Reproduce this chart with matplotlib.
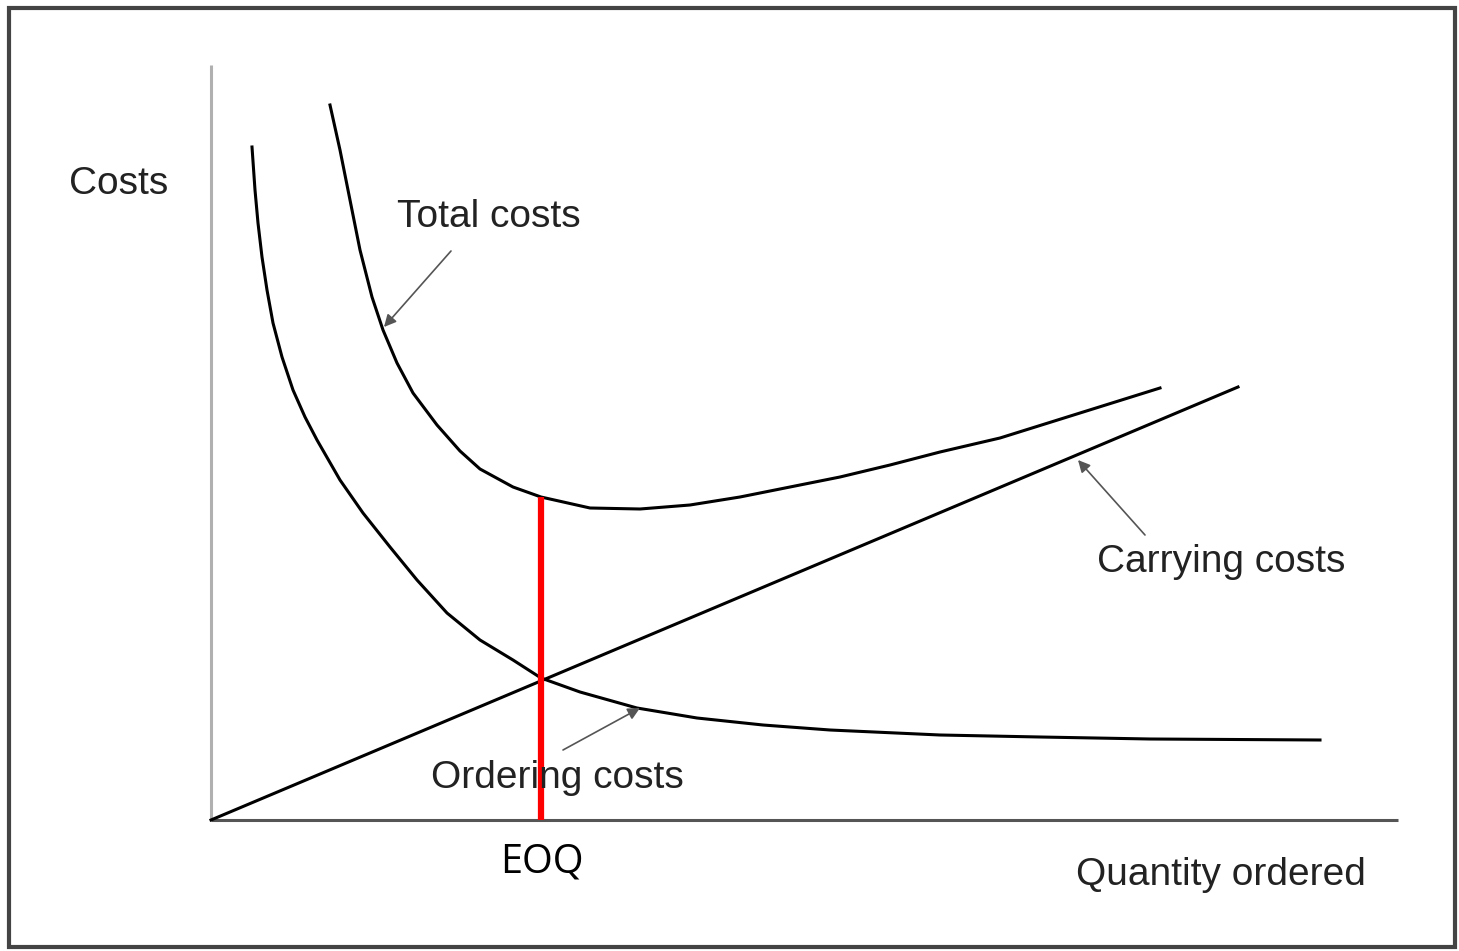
import matplotlib
matplotlib.use("Agg")
import matplotlib.pyplot as plt
from matplotlib.patches import Rectangle

# ---- data (quantity ordered vs cost) ----
ordering_q = [41, 44, 47, 51, 56, 62, 71, 82, 94, 106, 129, 152, 179, 206, 236, 269, 302, 330,
              369, 426, 486, 552, 619, 729, 829, 939, 1109]
ordering_c = [673, 630, 597, 563, 530, 497, 463, 430, 403, 380, 340, 307, 273, 240, 207, 180, 160, 142,
              128, 112, 102, 95, 90, 85, 83, 81, 80]

total_q = [119, 129, 139, 149, 161, 172, 186, 202, 226, 249, 269, 302, 330, 379, 429, 479, 529,
           579, 629, 679, 729, 789, 949]
total_c = [715, 670, 620, 570, 523, 490, 457, 427, 395, 369, 351, 333, 323, 312, 311, 315, 323,
           333, 343, 355, 368, 382, 432]

carrying_q = [0, 1027]
carrying_c = [0, 433]

eoq_q = 330
eoq_top = 323

x_axis_end = 1187
y_axis_end = 755

labels = {
    "costs": "Costs",
    "total": "Total costs",
    "carrying": "Carrying costs",
    "ordering": "Ordering costs",
    "quantity": "Quantity ordered",
    "eoq": "EOQ",
}

W, H = 1459, 951
fig = plt.figure(figsize=(W / 100, H / 100), dpi=100)
fig.patch.set_facecolor("white")
ax = fig.add_axes([0, 0, 1, 1])
ax.set_xlim(-211, W - 211)
ax.set_ylim(820 - H, 820)
ax.axis("off")

# axes lines
ax.plot([0, 0], [0, y_axis_end], color="#b0b0b0", lw=2.2, solid_capstyle="butt")
ax.plot([0, x_axis_end], [0, 0], color="#555555", lw=2.2, solid_capstyle="butt")

# curves
ax.plot(ordering_q, ordering_c, color="black", lw=2.2, solid_joinstyle="round")
ax.plot(total_q, total_c, color="black", lw=2.2, solid_joinstyle="round")
ax.plot(carrying_q, carrying_c, color="black", lw=2.2)

# EOQ line
ax.plot([eoq_q, eoq_q], [0, eoq_top], color="#ff0000", lw=4.5, solid_capstyle="butt")

font = ["Liberation Sans", "DejaVu Sans"]
tc = "#222222"
fs = 28
ax.text(-92, 636, labels["costs"], fontsize=fs, family=font, color=tc, ha="center", va="center")
ax.text(278, 603, labels["total"], fontsize=fs, family=font, color=tc, ha="center", va="center")
ax.text(1010, 258, labels["carrying"], fontsize=fs, family=font, color=tc, ha="center", va="center")
ax.text(346, 42, labels["ordering"], fontsize=fs, family=font, color=tc, ha="center", va="center")
ax.text(1010, -55, labels["quantity"], fontsize=fs, family=font, color=tc, ha="center", va="center")
ax.text(331, -42, labels["eoq"], fontsize=28.5, family=["Open Sans", "DejaVu Sans"], color="black",
        ha="center", va="center")

arrow_kw = dict(arrowstyle="-|>", color="#555555", lw=1.2, mutation_scale=18, shrinkA=0, shrinkB=0)
ax.annotate("", xy=(173, 493), xytext=(240, 569), arrowprops=arrow_kw)
ax.annotate("", xy=(867, 360), xytext=(934, 285), arrowprops=arrow_kw)
ax.annotate("", xy=(429, 112), xytext=(352, 70), arrowprops=arrow_kw)

# outer frame
fig.patches.append(Rectangle((9 / W, (H - 947) / H), (1455 - 9) / W, (947 - 8) / H,
                             transform=fig.transFigure, fill=False, edgecolor="#444444", lw=3))

fig.savefig("out.png", dpi=100, facecolor="white")
